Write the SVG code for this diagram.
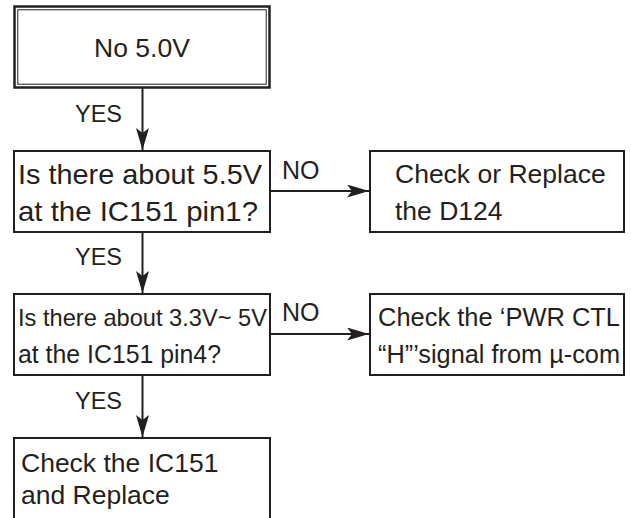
<svg xmlns="http://www.w3.org/2000/svg" width="631" height="518" viewBox="0 0 631 518">
<style>
  .box{fill:#fff;stroke:#231f20;stroke-width:2}
  .t{font-family:"Liberation Sans",Arial,sans-serif;font-size:26.5px;fill:#231f20}
  .big{font-size:28.5px}
  .cond{font-size:24px}
  .lbl{font-family:"Liberation Sans",Arial,sans-serif;font-size:23.5px;fill:#231f20}
  .no{font-size:25px}
  .ln{stroke:#231f20;stroke-width:2;fill:none}
</style>
<defs>
  <marker id="ah" markerUnits="userSpaceOnUse" markerWidth="24" markerHeight="14" refX="22" refY="6.5" orient="auto">
    <path d="M0,0 L22,6.5 L0,13 L5,6.5 Z" fill="#231f20"/>
  </marker>
</defs>
<rect width="631" height="518" fill="#fff"/>
<g id="connectors">
  <line class="ln" x1="142.5" y1="88" x2="142.5" y2="150" marker-end="url(#ah)"/>
  <line class="ln" x1="142.5" y1="232" x2="142.5" y2="293" marker-end="url(#ah)"/>
  <line class="ln" x1="142.5" y1="375" x2="142.5" y2="437" marker-end="url(#ah)"/>
  <line class="ln" x1="270" y1="191" x2="369" y2="191" marker-end="url(#ah)"/>
  <line class="ln" x1="270" y1="334" x2="369" y2="334" marker-end="url(#ah)"/>
  <text class="lbl" x="75" y="122">YES</text>
  <text class="lbl" x="75" y="265">YES</text>
  <text class="lbl" x="75" y="409">YES</text>
  <text class="lbl no" x="282" y="179">NO</text>
  <text class="lbl no" x="282" y="321">NO</text>
</g>
<g id="start">
  <rect x="14.5" y="6.5" width="255" height="81" fill="#fff" stroke="#231f20" stroke-width="2.5"/>
  <rect x="17.8" y="9.8" width="248.4" height="74.4" fill="none" stroke="#231f20" stroke-width="1"/>
  <text class="t" x="142" y="57" text-anchor="middle">No 5.0V</text>
</g>
<g id="q1">
  <rect class="box" x="14" y="151" width="256" height="81"/>
  <text class="t big" x="18" y="184" textLength="244" lengthAdjust="spacingAndGlyphs">Is there about 5.5V</text>
  <text class="t big" x="18" y="221" textLength="240" lengthAdjust="spacingAndGlyphs">at the IC151 pin1?</text>
</g>
<g id="d124">
  <rect class="box" x="370" y="151" width="254" height="81"/>
  <text class="t" x="395" y="183">Check or Replace</text>
  <text class="t" x="395" y="220">the D124</text>
</g>
<g id="q2">
  <rect class="box" x="14" y="294" width="256" height="81"/>
  <text class="t cond" x="18" y="326" textLength="249" lengthAdjust="spacingAndGlyphs">Is there about 3.3V~ 5V</text>
  <text class="t" x="18" y="363" textLength="203" lengthAdjust="spacingAndGlyphs">at the IC151 pin4?</text>
</g>
<g id="pwr">
  <rect class="box" x="370" y="294" width="254" height="81"/>
  <text class="t" x="378" y="326" textLength="242" lengthAdjust="spacingAndGlyphs">Check the ‘PWR CTL</text>
  <text class="t" x="378" y="363" textLength="242" lengthAdjust="spacingAndGlyphs">“H”’signal from µ-com</text>
</g>
<g id="replace">
  <path class="box" d="M14,519 V438 H270 V519"/>
  <text class="t" x="21" y="472">Check the IC151</text>
  <text class="t" x="21" y="504">and Replace</text>
</g>
</svg>
